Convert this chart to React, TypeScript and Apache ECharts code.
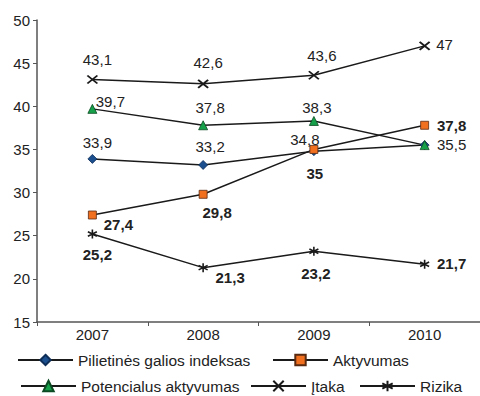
import React, { useEffect, useRef } from 'react';
import * as echarts from 'echarts';

const years = ['2007', '2008', '2009', '2010'];
const pilietines = [33.9, 33.2, 34.8, 35.5];
const aktyvumas = [27.4, 29.8, 35, 37.8];
const potencialus = [39.7, 37.8, 38.3, 35.5];
const itaka = [43.1, 42.6, 43.6, 47];
const rizika = [25.2, 21.3, 23.2, 21.7];

const names = ['Pilietinės galios indeksas', 'Aktyvumas', 'Potencialus aktyvumas', 'Įtaka', 'Rizika'];

// label placement (presentation only)
const pilOffsets: (number[] | null)[] = [[5, -16], [7, -18], [-9, -12], null];
const aktOffsets = [[26, 9], [14, 18], [1, 24], [27, 0]];
const potOffsets = [[18, -7], [7, -18], [3, -13], [27, -1]];
const itaOffsets = [[5, -20], [5, -21], [8, -20], [20, -1]];
const rizOffsets = [[5, 21], [27, 10], [2, 22], [27, -1]];

const FONT = '"Liberation Sans", Arial, sans-serif';
const LINE = '#1a1a1a';

const fmt = (v: number) => String(v).replace('.', ',');

function build(values: number[], offsets: (number[] | null)[], bold: boolean) {
  return values.map((v, i) => {
    const off = offsets[i];
    return {
      value: v,
      label: off
        ? {
            show: true,
            position: 'inside',
            offset: off,
            formatter: fmt(v),
            fontSize: 15,
            fontFamily: FONT,
            fontWeight: bold ? 'bold' : 'normal',
            color: '#222',
          }
        : { show: false },
    };
  });
}

export default function App() {
  const ref = useRef<HTMLDivElement>(null);
  useEffect(() => {
    document.body.style.margin = '0';
    const chart = echarts.init(ref.current!, undefined, { renderer: 'svg' });
    const legendBase = {
      padding: 0,
      itemWidth: 55,
      itemHeight: 13,
      itemGap: 0,
      textStyle: { fontSize: 15.5, color: '#222', fontFamily: FONT },
    };
    chart.setOption({
      animation: false,
      textStyle: { fontFamily: FONT },
      grid: { left: 37, top: 20, width: 448, height: 302, containLabel: false },
      legend: [
        { ...legendBase, data: [names[0]], left: 17, top: 352 },
        { ...legendBase, data: [names[1]], left: 272, top: 352 },
        { ...legendBase, data: [names[2]], left: 20, top: 378 },
        { ...legendBase, data: [names[3]], left: 250, top: 378 },
        { ...legendBase, data: [names[4]], left: 359, top: 378 },
      ],
      xAxis: {
        type: 'category',
        data: years,
        boundaryGap: true,
        axisLine: { lineStyle: { color: '#555', width: 1.5 } },
        axisTick: { show: true, length: 4, lineStyle: { color: '#555' } },
        axisLabel: { fontSize: 15, color: '#222', margin: 5, fontFamily: FONT },
        splitLine: { show: false },
      },
      yAxis: {
        type: 'value',
        min: 15,
        max: 50,
        interval: 5,
        axisLine: { show: true, lineStyle: { color: '#555', width: 1.5 } },
        axisTick: { show: true, length: 4, lineStyle: { color: '#555' } },
        axisLabel: { fontSize: 15, color: '#222', margin: 7, fontFamily: FONT },
        splitLine: { show: false },
      },
      series: [
        {
          name: names[0],
          type: 'line',
          data: build(pilietines, pilOffsets, false),
          symbol: 'diamond',
          symbolSize: 9,
          showAllSymbol: true,
          lineStyle: { color: LINE, width: 1.5 },
          itemStyle: { color: '#1c4f8e', borderColor: '#0e2d57', borderWidth: 0.8 },
        },
        {
          name: names[1],
          type: 'line',
          data: build(aktyvumas, aktOffsets, true),
          symbol: 'rect',
          symbolSize: 8,
          lineStyle: { color: LINE, width: 1.5 },
          itemStyle: { color: '#f07020', borderColor: '#5a2a10', borderWidth: 0.8 },
        },
        {
          name: names[2],
          type: 'line',
          data: build(potencialus, potOffsets, false),
          symbol: 'triangle',
          symbolSize: 9,
          lineStyle: { color: LINE, width: 1.5 },
          itemStyle: { color: '#17a04a', borderColor: '#0b4a22', borderWidth: 0.8 },
        },
        {
          name: names[3],
          type: 'line',
          data: build(itaka, itaOffsets, false),
          symbol: 'path://M0,0L10,8M10,0L0,8',
          symbolSize: [10, 8],
          lineStyle: { color: LINE, width: 1.5 },
          itemStyle: { color: 'none', borderColor: LINE, borderWidth: 1.8 },
        },
        {
          name: names[4],
          type: 'line',
          data: build(rizika, rizOffsets, true),
          symbol: 'path://M5,0L5,10M0.7,2.5L9.3,7.5M0.7,7.5L9.3,2.5',
          symbolSize: [9, 9],
          lineStyle: { color: LINE, width: 1.5 },
          itemStyle: { color: 'none', borderColor: LINE, borderWidth: 1.6 },
        },
      ],
    });
    return () => chart.dispose();
  }, []);
  return <div ref={ref} style={{ width: 480, height: 396 }} />;
}
